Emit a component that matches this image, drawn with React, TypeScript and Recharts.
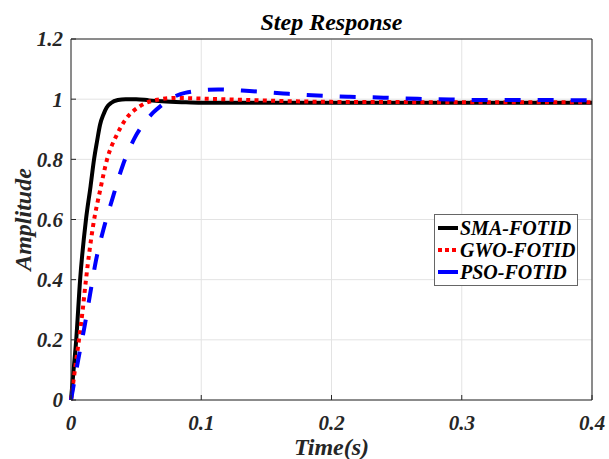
import { LineChart, Line, XAxis, YAxis, CartesianGrid, Legend } from "recharts";

const FONT = "Times New Roman, Liberation Serif, serif";
const AXIS = "#262626";

// time (s) and amplitude
const smaT = [0, 0.002, 0.004, 0.007, 0.0115, 0.015, 0.0177, 0.02, 0.0223, 0.025, 0.0274, 0.031, 0.036, 0.042, 0.05, 0.06, 0.07, 0.085, 0.1, 0.15, 0.2, 0.3, 0.4];
const smaA = [0, 0.1, 0.2, 0.4, 0.6, 0.71, 0.8, 0.86, 0.915, 0.95, 0.972, 0.988, 0.997, 1.0, 1.0, 0.996, 0.993, 0.99, 0.988, 0.988, 0.988, 0.988, 0.988];

const gwoT = [0, 0.003, 0.0061, 0.009, 0.0115, 0.017, 0.0225, 0.0277, 0.035, 0.0415, 0.053, 0.065, 0.08, 0.1, 0.137, 0.2, 0.3, 0.4];
const gwoA = [0, 0.1, 0.2, 0.3, 0.4, 0.58, 0.7, 0.8, 0.88, 0.93, 0.977, 0.997, 1.004, 1.002, 0.997, 0.991, 0.99, 0.99];

const psoT = [0, 0.0056, 0.0102, 0.0146, 0.019, 0.0256, 0.032, 0.04, 0.049, 0.057, 0.063, 0.0696, 0.078, 0.0875, 0.113, 0.137, 0.163, 0.189, 0.214, 0.24, 0.266, 0.291, 0.316, 0.342, 0.368, 0.4];
const psoA = [0, 0.135, 0.24, 0.35, 0.46, 0.578, 0.672, 0.783, 0.872, 0.925, 0.955, 0.98, 1.005, 1.021, 1.032, 1.027, 1.019, 1.012, 1.008, 1.005, 1.001, 0.999, 0.997, 0.997, 0.997, 0.996];

const xTicks = [0, 0.1, 0.2, 0.3, 0.4];
const yTicks = [0, 0.2, 0.4, 0.6, 0.8, 1, 1.2];

const series = [
  { name: "SMA-FOTID", t: smaT, a: smaA, color: "#000000", dash: undefined as string | undefined, key: undefined as string | undefined },
  { name: "GWO-FOTID", t: gwoT, a: gwoA, color: "#ff0000", dash: "4 4.3", key: "4 3" },
  { name: "PSO-FOTID", t: psoT, a: psoA, color: "#0000ff", dash: "16 17", key: undefined },
];

const zip = (t: number[], a: number[]) => t.map((x, i) => ({ t: x, a: a[i] }));

const tickFont = { fontFamily: FONT, fontSize: 21, fontWeight: 700, fontStyle: "italic", fill: "#262626" };
const labelFont = { fontFamily: FONT, fontSize: 24, fontWeight: 700, fontStyle: "italic", fill: "#262626" };

function LegendBox() {
  return (
    <div style={{
      width: 144, height: 72, border: "1px solid #666", background: "#fff",
      fontFamily: FONT, fontSize: 20, fontWeight: 700, fontStyle: "italic",
      padding: "2px 0 0 2px", boxSizing: "border-box", whiteSpace: "nowrap", color: "#000",
    }}>
      {series.map((s) => (
        <div key={s.name} style={{ display: "flex", alignItems: "center", height: 22 }}>
          <svg width={22} height={8} style={{ marginRight: 1 }}>
            <line x1={1} y1={4} x2={21} y2={4} stroke={s.color} strokeWidth={4} strokeDasharray={s.key} />
          </svg>
          <span style={{ lineHeight: "22px" }}>{s.name}</span>
        </div>
      ))}
    </div>
  );
}

export default function App() {
  return (
    <div style={{ position: "absolute", left: 0, top: 0, width: 609, height: 459, background: "#fff" }}>
      <LineChart width={609} height={459} margin={{ top: 0, right: 0, bottom: 0, left: 0 }}>
        <CartesianGrid stroke="#e3e3e3" strokeWidth={1} xAxisId="bottom" yAxisId="left" />
        <XAxis xAxisId="bottom" dataKey="t" type="number" domain={[0, 0.4]} ticks={xTicks}
          allowDuplicatedCategory={false} height={59}
          stroke={AXIS} tickSize={-5} tickMargin={20} tick={tickFont}
          label={{ value: "Time(s)", position: "insideBottom", offset: 4, style: labelFont }} />
        <XAxis xAxisId="top" orientation="top" type="number" domain={[0, 0.4]} ticks={xTicks}
          height={39} stroke={AXIS} tickSize={-5} tick={() => <g />}
          label={{ value: "Step Response", position: "center", dy: 2, style: { ...labelFont, fill: "#000" } }} />
        <YAxis yAxisId="left" type="number" domain={[0, 1.2]} ticks={yTicks} width={71}
          stroke={AXIS} tickSize={-5} tickMargin={13} tick={tickFont}
          label={{ value: "Amplitude", angle: -90, position: "insideLeft", offset: 22, style: { ...labelFont, textAnchor: "middle" } }} />
        <YAxis yAxisId="right" orientation="right" type="number" domain={[0, 1.2]} ticks={yTicks}
          width={17} stroke={AXIS} tickSize={-5} tick={() => <g />} />
        {series.map((s) => (
          <Line key={s.name} xAxisId="bottom" yAxisId="left" data={zip(s.t, s.a)} dataKey="a" name={s.name}
            type="monotone" stroke={s.color} strokeWidth={4} strokeDasharray={s.dash}
            dot={false} activeDot={false} isAnimationActive={false} />
        ))}
        <Legend layout="vertical" align="center" verticalAlign="middle" content={() => <LegendBox />}
          wrapperStyle={{ left: 434, top: 214, width: 144, height: 72 }} />
      </LineChart>
    </div>
  );
}
